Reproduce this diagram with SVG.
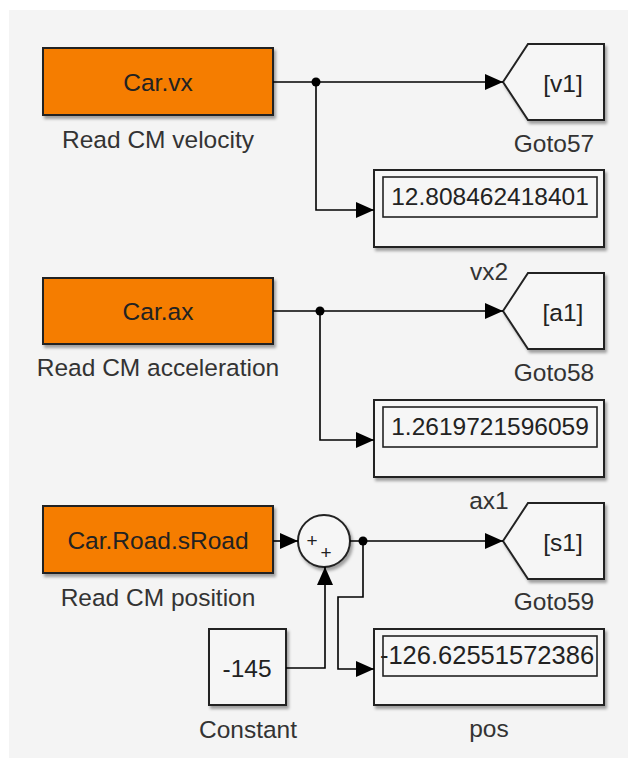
<svg xmlns="http://www.w3.org/2000/svg" width="632" height="762" viewBox="0 0 632 762">
<defs>
<filter id="sh" x="-10%" y="-10%" width="130%" height="140%">
<feDropShadow dx="2" dy="3" stdDeviation="1.6" flood-color="#000" flood-opacity="0.35"/>
</filter>
<marker id="arr" viewBox="0 0 18 16" refX="18" refY="8" markerWidth="18" markerHeight="16" markerUnits="userSpaceOnUse" orient="auto">
<path d="M0,0 L18,8 L0,16 z" fill="#000"/>
</marker>
</defs>
<style>
.bg{fill:#f4f4f4}
.src{fill:#f57d00;stroke:#222;stroke-width:2;filter:url(#sh)}
.blk{fill:#f6f6f6;stroke:#222;stroke-width:2;filter:url(#sh)}
.inner{fill:none;stroke:#222;stroke-width:1.6}
.t{font-family:"Liberation Sans",Arial,sans-serif;font-size:24.5px;fill:#222;text-anchor:middle}
.lbl{font-family:"Liberation Sans",Arial,sans-serif;font-size:24.5px;fill:#333;text-anchor:middle}
.pl{font-family:"Liberation Sans",Arial,sans-serif;font-size:19px;fill:#222;text-anchor:middle}
.ln{fill:none;stroke:#000;stroke-width:1.6}
.ar{marker-end:url(#arr)}
</style>
<rect class="bg" x="9" y="10" width="619" height="748"/>

<g id="car_vx">
<rect class="src" x="43" y="48" width="230" height="67"/>
<text class="t" x="158" y="91">Car.vx</text>
<text class="lbl" x="158" y="148">Read CM velocity</text>
</g>
<g id="goto57">
<polygon class="blk" points="503,82 528,44 604,44 604,120 528,120"/>
<text class="t" x="563" y="92">[v1]</text>
<text class="lbl" x="554" y="152">Goto57</text>
</g>
<g id="vx2">
<rect class="blk" x="374" y="170" width="230" height="77"/>
<rect class="inner" x="383" y="177" width="214" height="40"/>
<text class="t" x="490" y="205">12.808462418401</text>
<text class="lbl" x="489" y="280">vx2</text>
</g>

<g id="car_ax">
<rect class="src" x="43" y="278" width="230" height="66"/>
<text class="t" x="158" y="320">Car.ax</text>
<text class="lbl" x="158" y="376">Read CM acceleration</text>
</g>
<g id="goto58">
<polygon class="blk" points="503,311 528,273 604,273 604,349 528,349"/>
<text class="t" x="563" y="321">[a1]</text>
<text class="lbl" x="554" y="381">Goto58</text>
</g>
<g id="ax1">
<rect class="blk" x="374" y="400" width="230" height="77"/>
<rect class="inner" x="383" y="407" width="214" height="40"/>
<text class="t" x="490" y="435">1.2619721596059</text>
<text class="lbl" x="489" y="509">ax1</text>
</g>

<g id="car_sroad">
<rect class="src" x="43" y="506" width="230" height="67"/>
<text class="t" x="158" y="549">Car.Road.sRoad</text>
<text class="lbl" x="158" y="606">Read CM position</text>
</g>
<g id="sum">
<circle class="blk" cx="324" cy="541" r="26"/>
<text class="pl" x="312" y="547">+</text>
<text class="pl" x="326" y="559">+</text>
</g>
<g id="constant">
<rect class="blk" x="209" y="629" width="77" height="76"/>
<text class="t" x="247" y="677">-145</text>
<text class="lbl" x="248" y="738">Constant</text>
</g>
<g id="goto59">
<polygon class="blk" points="503,541 528,503 604,503 604,579 528,579"/>
<text class="t" x="563" y="551">[s1]</text>
<text class="lbl" x="554" y="610">Goto59</text>
</g>
<g id="pos">
<rect class="blk" x="374" y="629" width="230" height="76"/>
<rect class="inner" x="383" y="636" width="214" height="40"/>
<text class="t" x="487" y="664" style="font-size:25.5px">-126.62551572386</text>
<text class="lbl" x="489" y="737">pos</text>
</g>

<g id="connectors">
<path class="ln ar" d="M273,82 H503"/>
<path class="ln ar" d="M316,82 V210 H374"/>
<circle cx="316" cy="82" r="4.5" fill="#000"/>
<path class="ln ar" d="M273,311 H503"/>
<path class="ln ar" d="M320,311 V440 H374"/>
<circle cx="320" cy="311" r="4.5" fill="#000"/>
<path class="ln ar" d="M273,541 H298"/>
<path class="ln ar" d="M286,668 H325 V567"/>
<path class="ln ar" d="M350,541 H503"/>
<path class="ln ar" d="M363,541 V597 H338 V669 H374"/>
<circle cx="363" cy="541" r="4.5" fill="#000"/>
</g>
</svg>
